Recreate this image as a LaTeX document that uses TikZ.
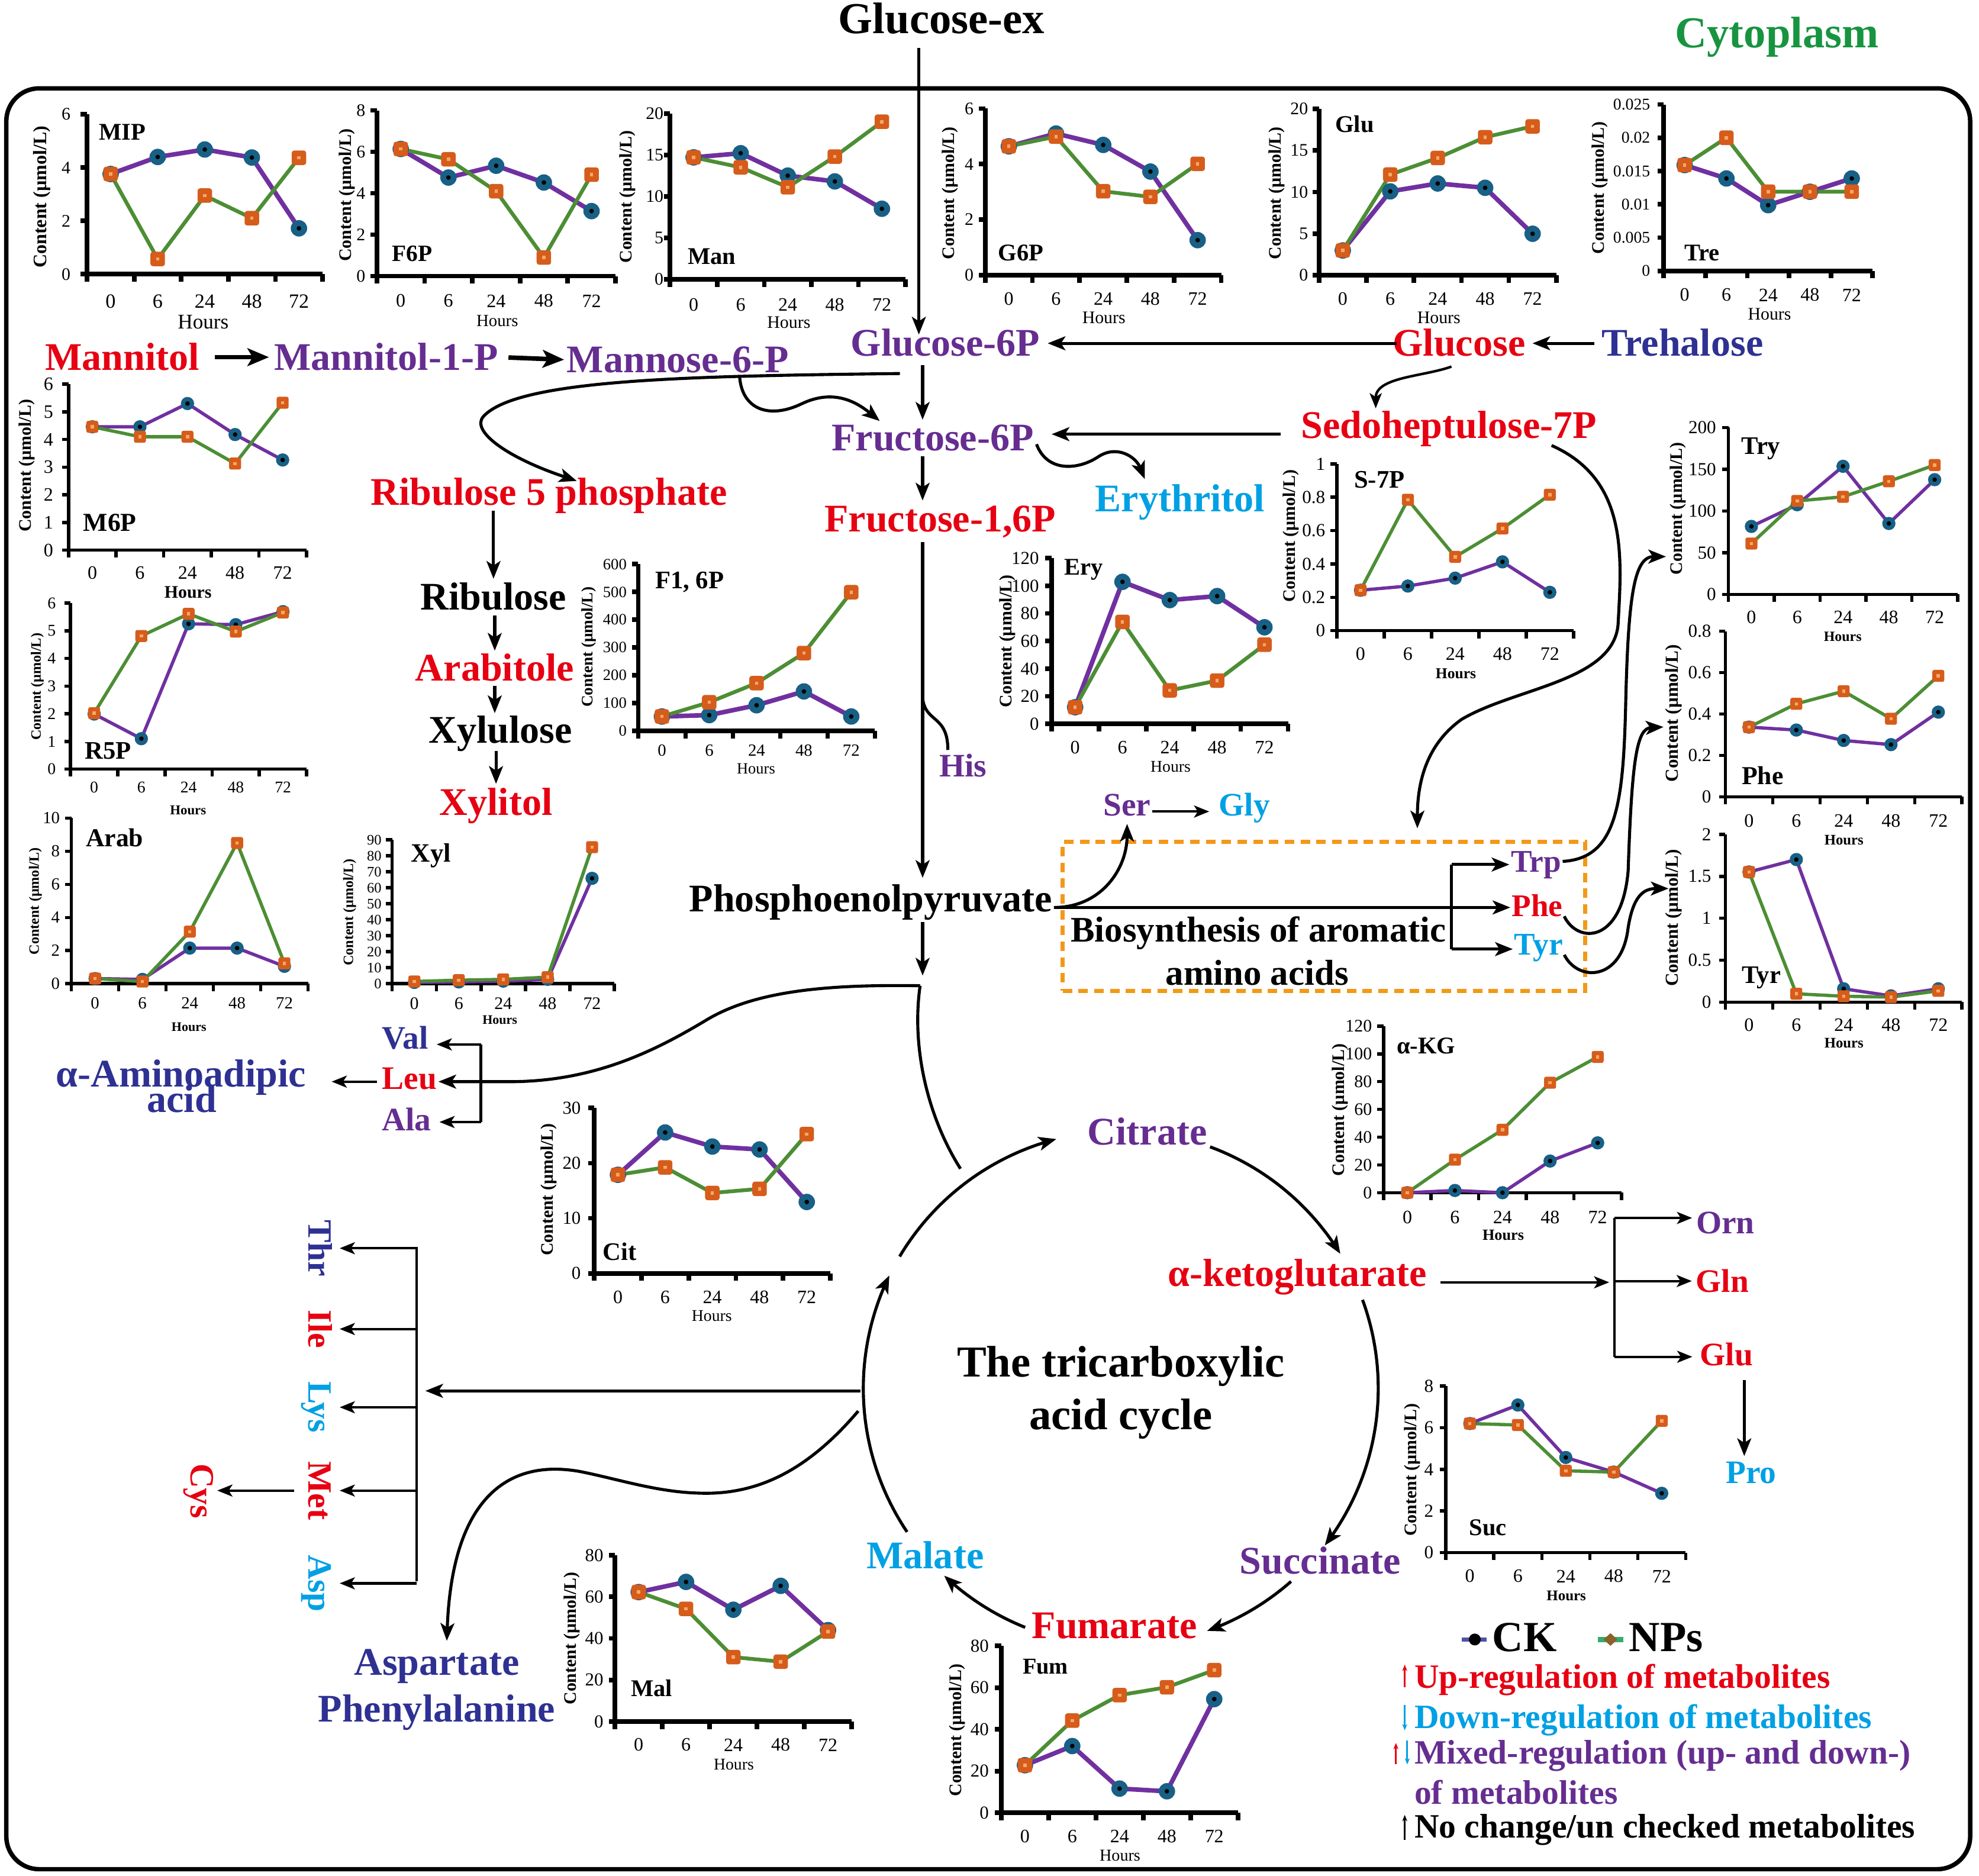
\documentclass[tikz,border=0pt]{standalone}
\usepackage{fontspec}
\setmainfont{Liberation Serif}
\usetikzlibrary{arrows.meta,calc}
\definecolor{cred}{RGB}{230,0,18}
\definecolor{cpur}{RGB}{102,45,145}
\definecolor{cnavy}{RGB}{46,49,146}
\definecolor{cblue}{RGB}{0,160,228}
\definecolor{cgreen}{RGB}{24,148,64}
\definecolor{ckline}{RGB}{112,48,160}
\definecolor{ckfill}{RGB}{24,96,134}
\definecolor{npline}{RGB}{76,142,52}
\definecolor{npfill}{RGB}{214,92,28}
\definecolor{npdot}{RGB}{246,168,100}
\definecolor{boxor}{RGB}{242,153,24}
\definecolor{lgck}{RGB}{80,82,165}
\definecolor{lgnp}{RGB}{52,172,112}
\definecolor{lgdia}{RGB}{140,96,42}

\def\tfs{15}\def\cfs{15}\def\cyo{18.5}\def\tgap{-9}\def\chid{C}
\newcommand{\setch}[5]{\def\chid{#1}\def\tfs{#2}\def\cfs{#3}\def\cyo{#4}\def\tgap{#5}}
\newcommand{\chart}[9]{%
\begin{scope}[shift={(#1,#2)}]
\foreach \tk [count=\jj] in {#6}{%
 \pgfmathsetmacro{\tyy}{-(\tk/#5)*#4}%
 \draw[axis#9] (-5,\tyy) -- (0,\tyy);
 \node[tickl,anchor=east] (\chid-y\jj) at (\tgap,\tyy) {\tk};}
\foreach \kk in {0,...,5}{\draw[axis#9] ({\kk*#3},0) -- ({\kk*#3},6);}
\draw[axis#9] (0,{-#4}) -- (0,0) -- ({5*#3},0);
\foreach \cl [count=\ii from 0] in {0,6,24,48,72}{\node[catl] (\chid-x\ii) at ({(\ii+0.5)*#3},\cyo) {\cl};}
\foreach \vv [count=\ii from 0] in {#7}{\coordinate (\chid-ck\ii) at ({(\ii+0.5)*#3},{-(\vv/#5)*#4});}
\foreach \vv [count=\ii from 0] in {#8}{\coordinate (\chid-np\ii) at ({(\ii+0.5)*#3},{-(\vv/#5)*#4});}
\draw[ckl#9] (\chid-ck0) -- (\chid-ck1) -- (\chid-ck2) -- (\chid-ck3) -- (\chid-ck4);
\draw[npl#9] (\chid-np0) -- (\chid-np1) -- (\chid-np2) -- (\chid-np3) -- (\chid-np4);
\foreach \ii in {0,...,4}{\node[ckm#9] (\chid-cm\ii) at (\chid-ck\ii) {}; \node[ckd] (\chid-cd\ii) at (\chid-ck\ii) {};}
\foreach \ii in {0,...,4}{\node[npm#9] (\chid-nm\ii) at (\chid-np\ii) {}; \node[npd] (\chid-nd\ii) at (\chid-np\ii) {};}
\end{scope}}

\begin{document}
\begin{tikzpicture}[x=1pt,y=-1pt,
 L/.style 2 args={font=\fontsize{#1}{#1}\selectfont\bfseries, text height=#2, text depth=0pt, inner sep=1pt},
 L35/.style={L={35}{23.2pt}},
 L34/.style={L={34}{22.5pt}},
 L31/.style={L={31}{20.5pt}},
 L28/.style={L={28.5}{18.9pt}},
 L27/.style={L={27}{17.9pt}},
 L26/.style={L={26}{17.2pt}},
 L25/.style={L={25}{16.5pt}},
 leg/.style={L={27}{17.9pt}, anchor=west, inner sep=0pt},
 ttl/.style={font=\fontsize{#1}{#1}\selectfont\bfseries, inner sep=0pt, text height=12.8pt, text depth=0pt},
 hrs/.style={font=\fontsize{#1}{#1}\selectfont, inner sep=0pt, text height=8.8pt, text depth=0pt},
 hrsb/.style={font=\fontsize{#1}{#1}\selectfont\bfseries, inner sep=0pt, text height=7.8pt, text depth=0pt},
 ctl/.style={rotate=90, font=\fontsize{#1}{#1}\selectfont\bfseries, inner sep=0pt},
 tickl/.style={font=\fontsize{\tfs}{\tfs}\selectfont, inner sep=0pt},
 catl/.style={font=\fontsize{\cfs}{\cfs}\selectfont, inner sep=0pt},
 axisA/.style={line width=3.6pt},
 axisB/.style={line width=2.6pt},
 cklA/.style={draw=ckline, line width=3.6pt, line join=round},
 cklB/.style={draw=ckline, line width=2.6pt, line join=round},
 nplA/.style={draw=npline, line width=3pt, line join=round},
 nplB/.style={draw=npline, line width=2.6pt, line join=round},
 ckmA/.style={circle, fill=ckfill, minimum size=13pt, inner sep=0pt},
 ckmB/.style={circle, fill=ckfill, minimum size=10.5pt, inner sep=0pt},
 ckd/.style={circle, fill=black, minimum size=3.6pt, inner sep=0pt},
 npmA/.style={rectangle, fill=npfill, minimum size=11.5pt, inner sep=0pt, rounded corners=2pt},
 npmB/.style={rectangle, fill=npfill, minimum size=9.5pt, inner sep=0pt, rounded corners=1.5pt},
 npd/.style={rectangle, fill=npdot, minimum size=2.6pt, inner sep=0pt},
 ar/.style={line width=2.4pt, -{Stealth[length=14pt,width=11pt,inset=3.5pt]}},
 arB/.style={line width=3.6pt, -{Stealth[length=17pt,width=14pt,inset=4pt]}},
 arT/.style={line width=2pt, -{Stealth[length=12pt,width=9.5pt,inset=3pt]}},
 ln/.style={line width=2.4pt},
 lnT/.style={line width=2pt},
 legar/.style={line width=1.4pt, -{Stealth[length=5pt,width=4pt]}}
]
\useasboundingbox (0,0) rectangle (1568,1486);
\draw[line width=3.5pt, rounded corners=26pt] (5,70) rectangle (1561,1481);

% ---------------- charts ----------------
\setch{MIP}{14}{16}{21.5}{-13}
\chart{69}{217.2}{37.3}{126.6}{6}{0,2,4,6}{3.76,4.4,4.68,4.38,1.72}{3.76,0.57,2.95,2.1,4.37}{A}
\node[ctl=15] (MIP-c) at (33,156) {Content (µmol/L)};
\node[ttl=19] (MIP-t) at (97,104.3) {MIP};
\node[hrs=16.5] (MIP-h) at (161,256) {Hours};

\setch{F6P}{14}{15}{19.6}{-9}
\chart{298.6}{218.8}{37.8}{131.3}{8}{0,2,4,6,8}{6.14,4.76,5.33,4.52,3.14}{6.14,5.64,4.1,0.9,4.9}{A}
\node[ctl=14] (F6P-c) at (275,154.6) {Content (µmol/L)};
\node[ttl=18.5] (F6P-t) at (326.6,200.5) {F6P};
\node[hrs=13.5] (F6P-h) at (394,254) {Hours};

\setch{Man}{14}{15}{20.3}{-5}
\chart{530.9}{221.2}{37.3}{131.3}{20}{0,5,10,15,20}{14.7,15.2,12.5,11.8,8.5}{14.7,13.5,11.1,14.8,19}{A}
\node[ctl=14] (Man-c) at (497,156) {Content (µmol/L)};
\node[ttl=19] (Man-t) at (564,203) {Man};
\node[hrs=14] (Man-h) at (625,255.6) {Hours};

\setch{G6P}{14}{15}{18.8}{-9}
\chart{780.6}{218}{37.4}{132}{6}{0,2,4,6}{4.64,5.1,4.69,3.73,1.26}{4.64,4.99,3.02,2.82,4.01}{A}
\node[ctl=14] (G6P-c) at (752.8,153) {Content (µmol/L)};
\node[ttl=19] (G6P-t) at (808.8,200) {G6P};
\node[hrs=14] (G6P-h) at (874.6,252) {Hours};

\setch{GluC}{14}{15}{18.8}{-8.5}
\chart{1045.1}{218}{37.6}{131.7}{20}{0,5,10,15,20}{2.97,10.08,11.03,10.51,4.98}{2.97,12.1,14.1,16.6,17.9}{A}
\node[ctl=14] (GluC-c) at (1011.5,153) {Content (µmol/L)};
\node[ttl=19] (GluC-t) at (1073.3,98.4) {Glu};
\node[hrs=14] (GluC-h) at (1140,252) {Hours};

\setch{Tre}{13}{15}{19.1}{-10.6}
\chart{1318.2}{214.6}{33.1}{131.8}{0.025}{0,0.005,0.01,0.015,0.02,0.025}{0.0159,0.01388,0.00988,0.01189,0.01388}{0.0159,0.02,0.0119,0.0119,0.0119}{A}
\node[ctl=14] (Tre-c) at (1267.5,148.8) {Content (µmol/L)};
\node[ttl=19] (Tre-t) at (1348.4,200) {Tre};
\node[hrs=14] (Tre-h) at (1402,249) {Hours};

\setch{M6P}{15}{15}{17.9}{-12}
\chart{54.3}{435.9}{37.7}{131.5}{6}{0,1,2,3,4,5,6}{4.46,4.46,5.3,4.18,3.26}{4.46,4.1,4.1,3.13,5.33}{B}
\node[ctl=14] (M6P-c) at (21.4,368.9) {Content (µmol/L)};
\node[ttl=20.5] (M6P-t) at (87.1,414.6) {M6P};
\node[hrsb=14] (M6P-h) at (149,469.7) {Hours};

\setch{R5P}{13}{13}{14.4}{-11.5}
\chart{55.9}{609.4}{37.4}{131.6}{6}{0,1,2,3,4,5,6}{1.99,1.1,5.25,5.22,5.69}{2.02,4.81,5.61,4.97,5.66}{B}
\node[ctl=11.3] (R5P-c) at (29.6,544) {Content (µmol/L)};
\node[ttl=20] (R5P-t) at (85.5,594.8) {R5P};
\node[hrsb=10.7] (R5P-h) at (149,641.5) {Hours};

\setch{Arab}{13.5}{13.5}{15.5}{-9}
\chart{56.6}{779.4}{37.5}{131.2}{10}{0,2,4,6,8,10}{0.31,0.26,2.15,2.15,1.05}{0.31,0.13,3.14,8.5,1.23}{B}
\node[ctl=11.3] (Arab-c) at (28,714) {Content (µmol/L)};
\node[ttl=20.5] (Arab-t) at (90.8,664.4) {Arab};
\node[hrsb=10.3] (Arab-h) at (149.7,813) {Hours};

\setch{Xyl}{11.5}{14}{15.5}{-8.2}
\chart{310.7}{779.4}{35.2}{114}{90}{0,10,20,30,40,50,60,70,80,90}{0.8,1.1,1.6,2.7,65.9}{1.4,2.2,2.7,4.1,85.4}{B}
\node[ctl=11.3] (Xyl-c) at (277,722.8) {Content (µmol/L)};
\node[ttl=21] (Xyl-t) at (341.5,676.4) {Xyl};
\node[hrsb=10.3] (Xyl-h) at (396,807.4) {Hours};

\setch{F16P}{12.5}{13.5}{15.5}{-9}
\chart{505.7}{579.1}{37.5}{132.1}{600}{0,100,200,300,400,500,600}{51.8,56.8,92.3,142,51.8}{51.8,103,172,280,499}{A}
\node[ctl=12.7] (F16P-c) at (466.4,512.7) {Content (µmol/L)};
\node[ttl=20] (F16P-t) at (546.4,460) {F1, 6P};
\node[hrs=12.4] (F16P-h) at (599,608.5) {Hours};

\setch{EryC}{14.5}{15}{18.8}{-9.7}
\chart{833.1}{573.6}{37.5}{131.3}{120}{0,20,40,60,80,100,120}{12.1,102.9,89.7,92.6,70}{12.1,73.9,24.3,31.4,57.4}{A}
\node[ctl=14] (EryC-c) at (798,508) {Content (µmol/L)};
\node[ttl=19] (EryC-t) at (858.4,449.3) {Ery};
\node[hrs=13] (EryC-h) at (927.5,607.2) {Hours};

\setch{S7P}{14.6}{15}{18.5}{-9}
\chart{1059.2}{499.7}{37.5}{132.2}{1}{0,0.2,0.4,0.6,0.8,1}{0.2425,0.2675,0.315,0.4125,0.23}{0.2425,0.785,0.4425,0.6125,0.815}{B}
\node[ctl=14] (S7P-c) at (1023,424.7) {Content (µmol/L)};
\node[ttl=20] (S7P-t) at (1092.9,380) {S-7P};
\node[hrsb=12] (S7P-h) at (1153.5,533.8) {Hours};

\setch{Try}{14.6}{15}{18.1}{-9.6}
\chart{1369.5}{471}{36.3}{132.3}{200}{0,50,100,150,200}{81.5,107.5,153.5,85,137.5}{61,112,117,135.5,155}{B}
\node[ctl=14] (Try-c) at (1329.5,403) {Content (µmol/L)};
\node[ttl=20] (Try-t) at (1395.2,353.6) {Try};
\node[hrsb=11.2] (Try-h) at (1460,504) {Hours};

\setch{PheC}{14.6}{15}{19.2}{-11}
\chart{1367}{631.3}{37.5}{131.2}{0.8}{0,0.2,0.4,0.6,0.8}{0.3365,0.3224,0.272,0.252,0.409}{0.3365,0.449,0.51,0.377,0.584}{B}
\node[ctl=14.5] (PheC-c) at (1326,565.2) {Content (µmol/L)};
\node[ttl=20.5] (PheC-t) at (1396.5,615) {Phe};
\node[hrsb=11.6] (PheC-h) at (1461,665.4) {Hours};

\setch{TyrC}{14.6}{15}{18.2}{-11}
\chart{1367}{794}{37.5}{132.9}{2}{0,0.5,1,1.5,2}{1.552,1.70,0.159,0.075,0.159}{1.552,0.0995,0.07,0.06,0.134}{B}
\node[ctl=14.5] (TyrC-c) at (1326,727.3) {Content (µmol/L)};
\node[ttl=20] (TyrC-t) at (1395.6,772.6) {Tyr};
\node[hrsb=11.6] (TyrC-h) at (1461,826.4) {Hours};

\setch{AKG}{14}{15}{19.4}{-9}
\chart{1096.2}{945}{37.7}{132}{120}{0,20,40,60,80,100,120}{0,1.6,0,22.8,35.9}{0,23.8,45.3,79.2,97.8}{B}
\node[ctl=14] (AKG-c) at (1061.6,879.4) {Content (µmol/L)};
\node[ttl=19] (AKG-t) at (1130,828.3) {α-KG};
\node[hrsb=12.3] (AKG-h) at (1191,978.6) {Hours};

\setch{Suc}{14.6}{15}{18.7}{-9.6}
\chart{1145.6}{1230.2}{38}{132}{8}{0,2,4,6,8}{6.2,7.09,4.57,3.87,2.85}{6.2,6.13,3.93,3.87,6.33}{B}
\node[ctl=14] (Suc-c) at (1118.9,1164.6) {Content (µmol/L)};
\node[ttl=19] (Suc-t) at (1179,1210.3) {Suc};
\node[hrsb=11.7] (Suc-h) at (1241,1264) {Hours};

\setch{Cit}{14.5}{15}{18.8}{-10.5}
\chart{470.9}{1008.9}{37.4}{131}{30}{0,10,20,30}{17.88,25.56,23.01,22.48,12.95}{17.88,19.23,14.59,15.33,25.27}{A}
\node[ctl=14] (Cit-c) at (435,942.5) {Content (µmol/L)};
\node[ttl=20] (Cit-t) at (491.1,992.2) {Cit};
\node[hrs=13] (Cit-h) at (564,1042.2) {Hours};

\setch{Mal}{14.5}{15}{18.5}{-9}
\chart{487.3}{1364}{37.5}{131.7}{80}{0,20,40,60,80}{62.3,67.2,53.8,65.3,44.0}{62.3,54.2,31.0,28.8,43.3}{A}
\node[ctl=14] (Mal-c) at (453,1298.2) {Content (µmol/L)};
\node[ttl=19] (Mal-t) at (516.3,1337.6) {Mal};
\node[hrs=13] (Mal-h) at (581.4,1397.7) {Hours};

\setch{Fum}{14.5}{15}{18.5}{-9.7}
\chart{793.3}{1436.3}{37.5}{132.2}{80}{0,20,40,60,80}{22.8,32.0,11.6,10.3,54.5}{22.8,44.2,56.4,60.2,68.4}{A}
\node[ctl=14] (Fum-c) at (758.3,1370.9) {Content (µmol/L)};
\node[ttl=18] (Fum-t) at (828.3,1320) {Fum};
\node[hrs=13.2] (Fum-h) at (887.4,1470.2) {Hours};

% ---------------- metabolite labels ----------------
\node[L35] (glcex) at (746,15) {Glucose-ex};
\node[L35,text=cgreen] (cyto) at (1408,26) {Cytoplasm};
\node[L31,text=cred] (mannitol) at (97,283) {Mannitol};
\node[L31,text=cpur] (m1p) at (306,283) {Mannitol-1-P};
\node[L31,text=cpur] (m6p) at (537,285) {Mannose-6-P};
\node[L31,text=cpur] (g6p) at (749,272) {Glucose-6P};
\node[L31,text=cred] (glc) at (1156,272) {Glucose};
\node[L31,text=cnavy] (tre) at (1333,272) {Trehalose};
\node[L31,text=cred] (s7p) at (1148,337) {Sedoheptulose-7P};
\node[L31,text=cpur] (f6p) at (739,347) {Fructose-6P};
\node[L31,text=cred] (r5p) at (435,390) {Ribulose 5 phosphate};
\node[L31,text=cblue] (eryt) at (935,395) {Erythritol};
\node[L31,text=cred] (f16p) at (745,411) {Fructose-1,6P};
\node[L31] (rib) at (391,473) {Ribulose};
\node[L31,text=cred] (arabl) at (392,529) {Arabitole};
\node[L31] (xylu) at (396.5,578.5) {Xylulose};
\node[L31,text=cred] (xylt) at (393,635.5) {Xylitol};
\node[L26,text=cpur] (his) at (763,607) {His};
\node[L26,text=cpur] (ser) at (893,638) {Ser};
\node[L26,text=cblue] (gly) at (986,638) {Gly};
\node[L31] (pep) at (690,712) {Phosphoenolpyruvate};
\node[L28] (bio1) at (997,737) {Biosynthesis of aromatic};
\node[L28] (bio2) at (996,771) {amino acids};
\node[L25,text=cpur] (trp) at (1217,682.5) {Trp};
\node[L25,text=cred] (phe) at (1218,718) {Phe};
\node[L25,text=cblue] (tyr) at (1219,748.5) {Tyr};
\node[L26,text=cnavy] (val) at (321,822.5) {Val};
\node[L26,text=cred] (leu) at (324.5,854.5) {Leu};
\node[L26,text=cpur] (ala) at (322,887) {Ala};
\node[L31,text=cnavy] (aad1) at (143.5,851) {α-Aminoadipic};
\node[L31,text=cnavy] (aad2) at (144,871) {acid};
\node[L27,text=cnavy,rotate=-90] (thr) at (253.5,989) {Thr};
\node[L27,text=cred,rotate=-90] (ile) at (253.5,1053) {Ile};
\node[L27,text=cblue,rotate=-90] (lys) at (253.5,1115) {Lys};
\node[L27,text=cred,rotate=-90] (met) at (253.5,1181) {Met};
\node[L27,text=cblue,rotate=-90] (asp) at (253.5,1254.5) {Asp};
\node[L27,text=cred,rotate=-90] (cys) at (160,1181.5) {Cys};
\node[L31,text=cnavy] (aspt) at (346,1317) {Aspartate};
\node[L31,text=cnavy] (phal) at (346,1354) {Phenylalanine};
\node[L31,text=cpur] (cit) at (909,897) {Citrate};
\node[L31,text=cred] (akg) at (1028,1009) {α-ketoglutarate};
\node[L31,text=cpur] (suc) at (1046,1237) {Succinate};
\node[L31,text=cred] (fum) at (883,1288) {Fumarate};
\node[L31,text=cblue] (mal) at (733,1232.5) {Malate};
\node[L35] (tca1) at (888,1079.5) {The tricarboxylic};
\node[L35] (tca2) at (888,1121) {acid cycle};
\node[L26,text=cpur] (orn) at (1367,969) {Orn};
\node[L26,text=cred] (gln) at (1364.6,1015) {Gln};
\node[L26,text=cred] (glu) at (1368,1073.5) {Glu};
\node[L26,text=cblue] (pro) at (1387.5,1166.5) {Pro};

\node[draw=boxor, line width=3.4pt, dash pattern=on 7.5pt off 5pt, minimum width=414pt, minimum height=118pt, inner sep=0pt] (aabox) at (1049,726) {};

% ---------------- connectors ----------------
\coordinate (spine) at (731,0);
\coordinate (spine0) at (728,0);
\draw[ar, shorten <=10pt, shorten >=-4.5pt] (glcex.south -| spine0) -- (g6p.north -| spine0);
\draw[arB, shorten <=11pt, shorten >=3pt] (mannitol.east) -- (m1p.west);
\draw[arB, shorten <=7pt, shorten >=1pt] (m1p.east) -- (m6p.west);
\draw[ar, shorten <=-4.5pt, shorten >=5pt] (glc.west) -- (g6p.east);
\draw[ar, shorten <=4.5pt, shorten >=4.5pt] (tre.west) -- (glc.east);
\draw[arT] ($(glc.south)+(-6,7)$) .. controls +(-22,8) and +(0,-25) .. ($(s7p.north)+(-58,-2)$);
\draw[ar, shorten <=15pt, shorten >=13pt] ([yshift=3pt]s7p.west |- f6p.east) -- ([yshift=3pt]f6p.east);
\draw[ar, shorten <=6pt, shorten >=3pt] (g6p.south -| spine) -- (f6p.north -| spine);
\draw[ar, shorten <=3pt, shorten >=3pt] (f6p.south -| spine) -- (f16p.north -| spine);
\draw[ar, shorten <=7pt, shorten >=5pt] (f16p.south -| spine) -- (pep.north -| spine);
\coordinate (hisj) at (731,553);
\draw[ln] (hisj) .. controls (733,573) and (751,566) .. ($(his.north)+(-12,-3)$);
\draw[ar] ($(g6p.south)+(-36,12.5)$) .. controls (550,298) and (410,300) .. (383,330) .. controls (373,341) and (400,362) .. ($(r5p.north)+(22,2.5)$);
\draw[ar] ($(m6p.south)+(49,2)$) .. controls (588,325) and (610,332) .. (635,320) .. controls (660,308) and (678,318) .. ($(f6p.north)+(-42,-2)$);
\draw[ar] ($(f6p.east)+(1,5)$) .. controls (830,375) and (855,372) .. (870,362) .. controls (885,352) and (900,362) .. ($(eryt.north)+(-28,-4)$);
\draw[ar, shorten <=3pt, shorten >=3pt] (r5p.south -| rib) -- (rib.north);
\draw[ar, shorten <=3pt, shorten >=2pt] (rib.south -| arabl) -- (arabl.north);
\draw[ar, shorten <=3pt, shorten >=2pt] (arabl.south) -- (arabl.south |- xylu.north);
\draw[ar, shorten <=5pt, shorten >=3pt] (xylu.south -| xylt) -- (xylt.north);

% PEP branches
\coordinate (tcaj) at (731,773);
\coordinate (split) at (729,781);
\draw[ar, shorten <=7pt] (pep.south -| spine) -- (tcaj);
\draw[ar] (split) .. controls (660,780) and (600,784) .. (560,808) .. controls (520,832) and (470,858) .. (400,857) -- ([yshift=-2.5pt]leu.east);
\draw[ln] (split) .. controls (722,830) and (735,885) .. (761,926);
\coordinate (pepR) at ([yshift=-7pt]pep.east);
\draw[ar] (pepR) -- (pepR -| phe.west);
\draw[ar, shorten >=5pt] (pepR) .. controls +(38,0) and +(0,40) .. (ser.south);
\draw[arT, shorten >=6.5pt] ([yshift=-5pt]ser.east) -- ([yshift=-5pt]gly.west);
\coordinate (abr) at (1150,0);
\coordinate (trpL) at ([yshift=-2.5pt]trp.west);
\coordinate (tyrL) at ([yshift=-3.5pt]tyr.west);
\draw[ln] (trpL -| abr) -- (tyrL -| abr);
\draw[ar] (trpL -| abr) -- (trpL);
\draw[ar] (tyrL -| abr) -- (tyrL);
\draw[ar] ($(s7p.south east)+(-37,4.5)$) .. controls (1290,380) and (1285,440) .. (1282,495) .. controls (1278,540) and (1200,545) .. (1158,570) .. controls (1130,590) and (1123,620) .. ($(aabox.north)+(74,-9)$);
\coordinate (tryin) at (1320,441);
\coordinate (phein) at (1318,576);
\coordinate (tyrin) at (1322,704);
\draw[ar] (trp.east) .. controls (1280,680) and (1286,640) .. (1288,560) .. controls (1290,470) and (1295,441) .. (tryin);
\draw[ar] ($(phe.east)+(0,8)$) .. controls (1250,748) and (1285,748) .. (1290,690) .. controls (1293,600) and (1297,577) .. (phein);
\draw[ar] ($(tyr.east)+(0,8)$) .. controls (1250,778) and (1285,778) .. (1290,735) .. controls (1294,710) and (1302,704) .. (tyrin);

% Val / Leu / Ala
\coordinate (vbr) at (381,0);
\coordinate (valL) at ([yshift=-5pt]val.east);
\coordinate (alaL) at ([yshift=-2pt]ala.east);
\draw[lnT] (valL -| vbr) -- (alaL -| vbr);
\draw[arT, shorten >=5.5pt] (valL -| vbr) -- (valL);
\draw[arT, shorten >=5.5pt] (alaL -| vbr) -- (alaL);
\draw[arT, shorten <=3pt, shorten >=19pt] ([yshift=-2.5pt]leu.west) -- ([yshift=-2.5pt]leu.west -| aad1.east);

% TCA cycle
\coordinate (tcac) at (888,1100);
\draw[ar] plot[domain=210.8:255.5, samples=40] ({888+204*cos(\x)},{1100+204*sin(\x)});
\draw[ar] plot[domain=290.3:328.5, samples=40] ({888+204*cos(\x)},{1100+204*sin(\x)});
\draw[ar] plot[domain=339.9:397.6, samples=50] ({888+204*cos(\x)},{1100+204*sin(\x)});
\draw[ar] plot[domain=48.6:70.4, samples=30] ({888+204*cos(\x)},{1100+204*sin(\x)});
\draw[ar] plot[domain=111.8:133.3, samples=30] ({888+204*cos(\x)},{1100+204*sin(\x)});
\draw[ar] plot[domain=146.1:206, samples=50] ({888+204*cos(\x)},{1100+204*sin(\x)});

% left branch
\coordinate (tcaw) at (682,1102);
\coordinate (brT) at (330,988);
\coordinate (brB) at (330,1253);
\draw[ar, shorten >=7pt] (tcaw) -- (tcaw -| brT);
\draw[lnT] (brT) -- (brB);
\draw[arT, shorten >=5.5pt] (thr -| brT) -- (thr.north);
\draw[arT, shorten >=5.5pt] (ile -| brT) -- (ile.north);
\draw[arT, shorten >=5.5pt] (lys -| brT) -- (lys.north);
\draw[arT, shorten >=5.5pt] (met -| brT) -- (met.north);
\draw[arT, shorten >=5.5pt] (asp -| brT) -- (asp.north);
\draw[arT, shorten <=10.5pt, shorten >=2pt] (met.south) -- (met.south -| cys.north);
\coordinate (tcasw) at (680,1118);
\draw[ar] (tcasw) .. controls (640,1165) and (600,1185) .. (553,1183) .. controls (520,1182) and (490,1172) .. (460,1166) .. controls (400,1155) and (358,1190) .. ($(aspt.north)+(8,-5.5)$);

% alpha-KG branch
\coordinate (brR) at (1279,0);
\draw[arT, shorten <=9.5pt, shorten >=4pt] ([yshift=-7pt]akg.east) -- ([yshift=-7pt]akg.east -| brR);
\draw[lnT] ([yshift=4pt]orn.west -| brR) -- ([yshift=-1.5pt]glu.west -| brR);
\draw[arT, shorten >=2pt] ([yshift=4pt]orn.west -| brR) -- ([yshift=4pt]orn.west);
\draw[arT, shorten >=2pt] (gln.west -| brR) -- (gln.west);
\draw[arT, shorten >=5pt] ([yshift=-1.5pt]glu.west -| brR) -- ([yshift=-1.5pt]glu.west);
\draw[ar, shorten <=10pt, shorten >=3pt] ([xshift=14pt]glu.south) -- ([xshift=-5.5pt]pro.north);

% ---------------- legend ----------------
\node[L34] (ck) at (1208,1297) {CK};
\node[L34] (nps) at (1320,1297) {NPs};
\draw[lgck, line width=3.2pt] ($(ck)+(-50,2)$) -- ($(ck)+(-30,2)$);
\fill[black] ($(ck)+(-39.5,2)$) circle (4.7);
\draw[lgnp, line width=4pt] ($(nps)+(-54,2)$) -- ($(nps)+(-34,2)$);
\fill[lgdia] ($(nps)+(-44,-3)$) -- ($(nps)+(-38.5,2)$) -- ($(nps)+(-44,7)$) -- ($(nps)+(-49.5,2)$) -- cycle;
\node[leg, text=cred] (lg1) at (1120.5,1328.5) {Up-regulation of metabolites};
\node[leg, text=cblue] (lg2) at (1120.5,1360.5) {Down-regulation of metabolites};
\node[leg, text=cpur] (lg3) at (1120.5,1388.5) {Mixed-regulation (up- and down-)};
\node[leg, text=cpur] (lg4) at (1120.5,1420.5) {of metabolites};
\node[leg] (lg5) at (1120.5,1447) {No change/un checked metabolites};
\draw[legar, cred] ($(lg1.west)+(-7.5,8.5)$) -- ($(lg1.west)+(-7.5,-9.5)$);
\draw[legar, cblue] ($(lg2.west)+(-7.5,-9.5)$) -- ($(lg2.west)+(-7.5,10.5)$);
\draw[legar, cred] ($(lg3.west)+(-14.5,9.5)$) -- ($(lg3.west)+(-14.5,-7.5)$);
\draw[legar, cblue] ($(lg3.west)+(-5.5,-9.5)$) -- ($(lg3.west)+(-5.5,9.5)$);
\draw[legar, black] ($(lg5.west)+(-7.5,11)$) -- ($(lg5.west)+(-7.5,-9)$);
\end{tikzpicture}
\end{document}
